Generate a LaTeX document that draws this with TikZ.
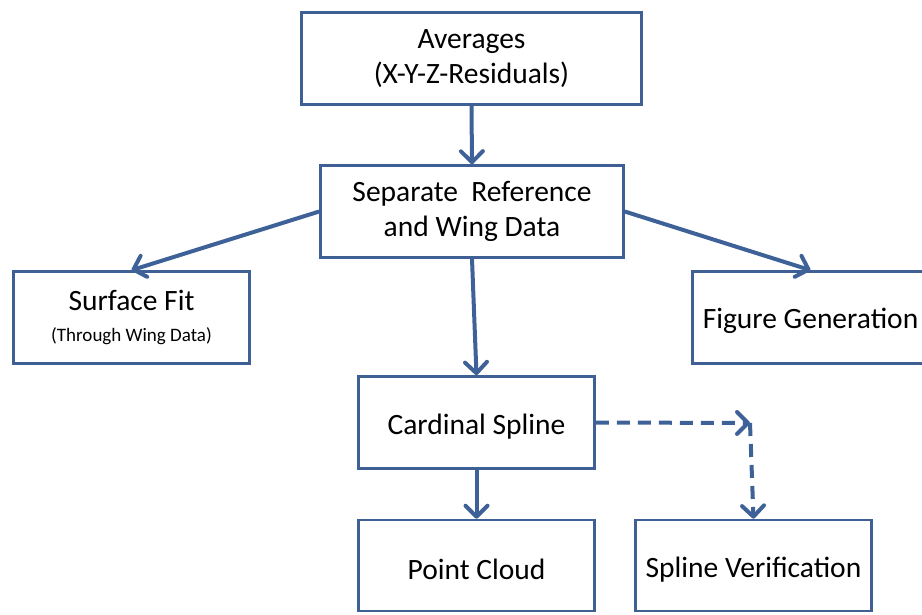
\documentclass[tikz,border=0pt]{standalone}
\usepackage{fontspec}
\setmainfont{Carlito}
\usetikzlibrary{arrows.meta}
\definecolor{boxc}{RGB}{62,96,148}
\definecolor{arrc}{RGB}{62,98,152}
\begin{document}
\begin{tikzpicture}[x=1pt,y=-1pt,
  box/.style={draw=boxc,line width=2.6pt,fill=white,rectangle,inner sep=0pt,
    minimum height=92pt,align=center,font=\fontsize{29.5}{35}\selectfont,
    execute at begin node={\rule{0pt}{28pt}}},
  conn/.style={draw=arrc,line width=4pt,
    -{Straight Barb[length=11pt,width=22pt,line width=4pt,round]}},
  dconn/.style={conn,dash pattern=on 13pt off 8pt}]
\useasboundingbox (0,0) rectangle (922,614);
\clip (0,0) rectangle (922,614);
\node[box,minimum width=340pt] (avg) at (471.5,58.5) {Averages\\(X-Y-Z-Residuals)};
\node[box,minimum width=303pt] (sep) at (472,211.5) {Separate\ \ Reference\\and Wing Data};
\node[box,minimum width=236pt] (surf) at (131.5,317.5) {Surface Fit\\[-4pt]{\fontsize{19}{22}\selectfont(Through Wing Data)}};
\node[box,minimum width=236pt] (fig) at (810.5,317.5) {Figure Generation};
\node[box,minimum width=236pt] (card) at (476.5,422.5) {Cardinal Spline};
\node[box,minimum width=236pt,minimum height=91pt] (pc) at (476.5,565.5) {Point Cloud};
\node[box,minimum width=236pt,minimum height=91pt] (sv) at (753.5,565.5) {Spline Verification};
\coordinate (bend) at (750,423);
\draw[conn] (avg.south) -- (sep.north);
\draw[conn] (sep.west) -- (surf.north);
\draw[conn] (sep.east) -- (fig.north);
\draw[conn] (sep.south) -- (card.north);
\draw[conn] (card.south) -- (pc.north);
\draw[dconn] (card.east) -- (bend);
\draw[dconn] (bend) -- (sv.north);
\end{tikzpicture}
\end{document}
